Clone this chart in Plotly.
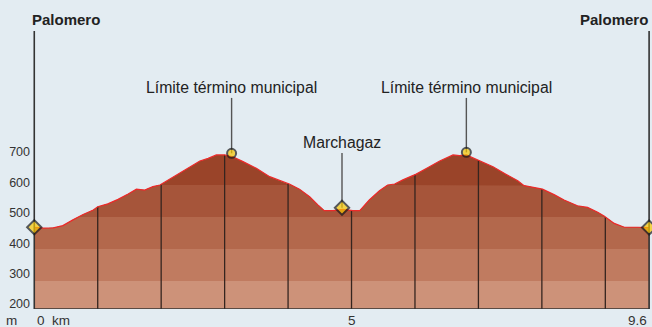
import numpy as np
import plotly.graph_objects as go

# elevation profile (km, m)
dist_km = [0.00, 0.14, 0.30, 0.45, 0.61, 0.77, 0.93, 1.00, 1.16, 1.32, 1.48, 1.61, 1.74, 1.87, 1.98,
           2.13, 2.29, 2.45, 2.61, 2.74, 2.87, 3.00, 3.13, 3.29, 3.50, 3.71, 3.87, 4.02, 4.18, 4.34,
           4.47, 4.57, 4.71, 4.86, 5.02, 5.13, 5.28, 5.44, 5.57, 5.68, 5.81, 6.02, 6.20, 6.39, 6.60,
           6.70, 6.81, 7.02, 7.23, 7.44, 7.62, 7.72, 7.88, 8.01, 8.20, 8.35, 8.56, 8.72, 8.88, 8.98,
           9.14, 9.30, 9.51, 9.69]
elev_m = [468, 465, 466, 473, 491, 508, 522, 532, 541, 555, 572, 587, 584, 595, 600,
          618, 637, 655, 675, 683, 694, 694, 688, 673, 652, 626, 613, 603, 587, 563,
          538, 520, 520, 524, 520, 520, 553, 582, 600, 603, 616, 634, 654, 675, 694,
          692, 694, 676, 657, 633, 613, 598, 592, 587, 569, 553, 535, 530, 515, 503,
          480, 468, 468, 467]

# waypoints
wp_names = ["Palomero", "Límite término municipal", "Marchagaz", "Límite término municipal", "Palomero"]
wp_km = [0.0, 3.11, 4.85, 6.81, 9.69]
wp_elev = [468, 699, 529, 702, 467]
wp_symbol = ["diamond", "circle", "diamond", "circle", "diamond"]
wp_label_y = [1116, 906, 734, 906, 1116]
wp_line_top = [1081, 872, 700, 872, 1081]
wp_bold = [True, False, False, False, True]

band_edges = [212.5, 300, 400, 500, 600, 1200]
band_colors = ["#cd9279", "#c07b60", "#b3684c", "#a6553a", "#9a4429"]
km_marks = [1, 2, 3, 4, 5, 6, 7, 8, 9]
ytick_vals = [200, 300, 400, 500, 600, 700]
xtick_vals = [0, 5, 9.69]
xtick_text = ["0  km", "5", "9.6"]

BG = "#e3ecf2"
FONT = "Liberation Sans, Arial, sans-serif"

x = np.array(dist_km, dtype=float)
y = np.array(elev_m, dtype=float)

# add crossing points at band edges so clipped bands line up with the profile
xs, ys = [x[0]], [y[0]]
for i in range(1, len(x)):
    for b in band_edges[1:-1]:
        if (y[i - 1] - b) * (y[i] - b) < 0:
            t = (b - y[i - 1]) / (y[i] - y[i - 1])
            xs.append(x[i - 1] + t * (x[i] - x[i - 1]))
            ys.append(b)
    xs.append(x[i])
    ys.append(y[i])
order = np.argsort(xs, kind="stable")
xs = np.array(xs)[order]
ys = np.array(ys)[order]

fig = go.Figure()

# bands, drawn top to bottom
for k in range(len(band_colors) - 1, -1, -1):
    top = band_edges[k + 1]
    fig.add_trace(go.Scatter(
        x=xs, y=np.minimum(ys, top), mode="lines", line=dict(width=0),
        fill="tozeroy", fillcolor=band_colors[k], hoverinfo="skip", showlegend=False))

# km lines
vx, vy = [], []
for km in km_marks:
    vx += [km, km, None]
    vy += [band_edges[0], float(np.interp(km, x, y)), None]
fig.add_trace(go.Scatter(x=vx, y=vy, mode="lines", line=dict(color="#35251f", width=1.3),
                         hoverinfo="skip", showlegend=False))

# profile line
fig.add_trace(go.Scatter(x=x, y=y, mode="lines", line=dict(color="#ec2a2a", width=1.2),
                         hoverinfo="skip", showlegend=False))

# leader lines for waypoints
for i in range(len(wp_names)):
    edge = i in (0, len(wp_names) - 1)
    y0 = band_edges[0] if edge else wp_elev[i]
    fig.add_trace(go.Scatter(
        x=[wp_km[i], wp_km[i]], y=[y0, wp_line_top[i]], mode="lines",
        line=dict(color="#333333" if edge else "#555555", width=1.6 if edge else 1.4),
        hoverinfo="skip", showlegend=False))
    fig.add_annotation(
        x=wp_km[i], y=wp_label_y[i], xref="x", yref="y",
        text=f"<b>{wp_names[i]}</b>" if wp_bold[i] else wp_names[i],
        showarrow=False,
        font=dict(family=FONT, size=15 if wp_bold[i] else 15.8, color="#222222"),
        xanchor="left" if i == 0 else ("right" if i == len(wp_names) - 1 else "center"),
        xshift=-4 if i == 0 else (1 if i == len(wp_names) - 1 else 0))

fig.add_trace(go.Scatter(
    x=wp_km, y=wp_elev, mode="markers", cliponaxis=False,
    marker=dict(symbol=wp_symbol, size=[11, 9, 11, 9, 11], color="#f7c600",
                line=dict(color="#1a1a1a", width=2)),
    hoverinfo="skip", showlegend=False))

# dummy trace on the label axis
fig.add_trace(go.Scatter(x=[None], y=[None], yaxis="y2", showlegend=False, hoverinfo="skip"))

# bottom axis line
fig.add_trace(go.Scatter(x=[0, 9.69], y=[band_edges[0], band_edges[0]], mode="lines",
                         line=dict(color="#333333", width=1.6), hoverinfo="skip", showlegend=False))

for v, t in zip(xtick_vals, xtick_text):
    fig.add_annotation(
        x=v, y=0, xref="x", yref="paper", text=t, showarrow=False, yanchor="top", yshift=-2,
        xanchor="left" if v == 0 else ("right" if v == xtick_vals[-1] else "center"),
        xshift=1 if v == 0 else 0,
        font=dict(family=FONT, size=13.5, color="#333333"))
fig.add_annotation(x=0, y=0, xref="paper", yref="paper", text="m", showarrow=False,
                   yanchor="top", xanchor="right", xshift=-14, yshift=-2,
                   font=dict(family=FONT, size=13.5, color="#333333"))

fig.update_layout(
    width=652, height=327,
    margin=dict(l=33, r=1, t=0, b=18),
    paper_bgcolor=BG, plot_bgcolor=BG,
    xaxis=dict(range=[-0.02, 9.72], showgrid=False, zeroline=False, showticklabels=False, ticks=""),
    yaxis=dict(range=[212.5, 1178], showgrid=False, zeroline=False, showticklabels=False, ticks=""),
    yaxis2=dict(range=[183.6, 1200], overlaying="y", side="left", showgrid=False, zeroline=False,
                tickvals=ytick_vals, ticks="", ticklabelstandoff=2, automargin=False,
                tickfont=dict(family=FONT, size=12.5, color="#333333")),
)

fig.write_html("out.html", config={"displayModeBar": False},
               post_script="document.body.style.margin='0';"
                           "document.documentElement.style.overflow='hidden';")
